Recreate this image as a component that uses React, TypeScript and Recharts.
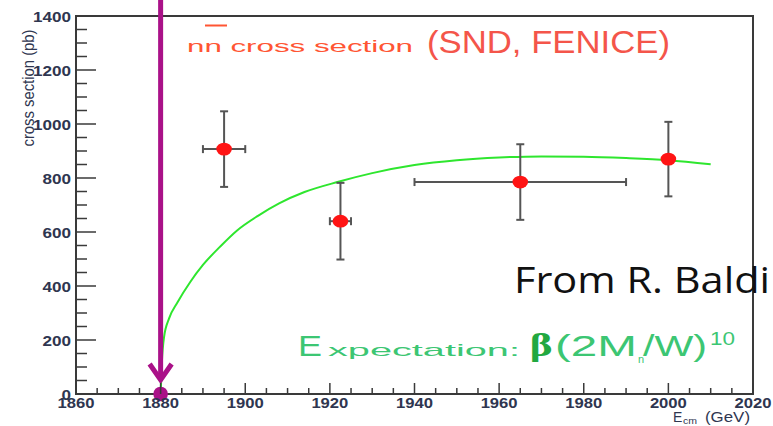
import {
  ComposedChart,
  XAxis,
  YAxis,
  Line,
  Scatter,
  ErrorBar,
  ReferenceArea,
  ReferenceLine,
  ReferenceDot,
} from 'recharts'

// SND / FENICE n-nbar points: energy (GeV) with half-width, cross section (pb) with error
const energy = [1895, 1922.5, 1965, 2000]
const energyErr = [5, 2.5, 25, 0]
const sigma = [907, 640, 785, 870]
const sigmaErr = [140, 142, 140, 138]

// expectation curve, beta (2Mn/W)^10 shape
const curveE = [1880, 1880.3, 1880.8, 1882, 1884, 1887, 1890, 1894, 1898, 1903, 1908, 1914, 1922, 1930, 1940, 1950, 1960, 1970, 1980, 1990, 2000, 2010]
const curveSigma = [0, 120, 210, 280, 340, 415, 478, 545, 605, 660, 706, 748, 786, 818, 848, 866, 876, 880, 879, 874, 866, 851]

const xMajor = [1860, 1880, 1900, 1920, 1940, 1960, 1980, 2000, 2020]
const yMajor = [0, 200, 400, 600, 800, 1000, 1200, 1400]

// threshold marker at 2Mn
const threshold = 1880
const arrowTop = 1465
const arrowTip = 52

const points = energy.map((x, i) => ({ x, y: sigma[i], ex: energyErr[i], ey: sigmaErr[i] }))
const curve = curveE.map((x, i) => ({ x, y: curveSigma[i] }))

const xTicks: number[] = []
for (let v = xMajor[0]; v <= xMajor[xMajor.length - 1]; v += 5) xTicks.push(v)
const yTicks: number[] = []
for (let v = yMajor[0]; v <= yMajor[yMajor.length - 1]; v += 50) yTicks.push(v)

const W = 773
const H = 426
const PLOT = { left: 76, right: 753, top: 16, bottom: 394 }
const AXIS = '#3a3a3a'
const LABEL = '#2f3650'
const PURPLE = '#aa1188'
const GREEN_TXT = '#3cc673'
const HELV = 'Liberation Sans, Arial, sans-serif'

function XTick({ x, payload }: any) {
  const v = payload.value
  const major = xMajor.includes(v)
  return (
    <g>
      <line x1={x} x2={x} y1={PLOT.bottom} y2={PLOT.bottom - (major ? 11 : 6)} stroke={AXIS} strokeWidth={1.5} />
      {major && (
        <text x={x} y={408} textAnchor="middle" fontSize={15} fontWeight="bold" fill={LABEL}
          fontFamily={HELV} textLength={37} lengthAdjust="spacingAndGlyphs">
          {v}
        </text>
      )}
    </g>
  )
}

function YTick({ y, payload }: any) {
  const v = payload.value
  const major = yMajor.includes(v)
  const s = String(v)
  return (
    <g>
      <line x1={PLOT.left} x2={PLOT.left + (major ? 20 : 11)} y1={y} y2={y} stroke={AXIS} strokeWidth={1.5} />
      {major && (
        <text x={71} y={y + 5.5} textAnchor="end" fontSize={15} fontWeight="bold" fill={LABEL}
          fontFamily={HELV} textLength={9.5 * s.length} lengthAdjust="spacingAndGlyphs">
          {s}
        </text>
      )}
    </g>
  )
}

function Dot(p: any) {
  return <ellipse cx={p.cx} cy={p.cy} rx={7.8} ry={6.4} fill="#ff1414" />
}

function Arrow(p: any) {
  const { x1, y1, y2 } = p
  return (
    <g>
      <line x1={x1} x2={x1} y1={y1} y2={y2 - 3} stroke={PURPLE} strokeWidth={5} />
      <polyline points={`${x1 - 11},${y2 - 16} ${x1},${y2} ${x1 + 11},${y2 - 16}`}
        fill="none" stroke={PURPLE} strokeWidth={5} strokeLinejoin="miter" />
    </g>
  )
}

export default function App() {
  return (
    <div style={{ position: 'absolute', left: 0, top: 0, width: W, height: H, background: '#fff' }}>
      <ComposedChart width={W} height={H} margin={{ top: PLOT.top, right: W - PLOT.right, left: 0, bottom: 0 }}>
        <XAxis dataKey="x" type="number" domain={[1860, 2020]} ticks={xTicks} interval={0}
          axisLine={false} tickLine={false} tickSize={0} height={H - PLOT.bottom} tick={<XTick />} allowDataOverflow />
        <YAxis type="number" domain={[0, 1400]} ticks={yTicks} interval={0}
          axisLine={false} tickLine={false} tickSize={0} width={PLOT.left} tick={<YTick />} allowDataOverflow />
        <ReferenceArea x1={1860} x2={2020} y1={0} y2={1400} fill="none" stroke={AXIS} strokeWidth={2} />
        <Line data={curve} dataKey="y" type="monotone" stroke="#2ee62e" strokeWidth={2}
          dot={false} isAnimationActive={false} />
        <Scatter data={points} dataKey="y" shape={<Dot />} isAnimationActive={false}>
          <ErrorBar dataKey="ey" direction="y" width={4} stroke="#555" strokeWidth={2} />
          <ErrorBar dataKey="ex" direction="x" width={4} stroke="#555" strokeWidth={2} />
        </Scatter>
        <ReferenceLine segment={[{ x: threshold, y: arrowTop }, { x: threshold, y: arrowTip }]}
          ifOverflow="visible" shape={<Arrow />} />
        <ReferenceDot x={threshold} y={0} r={7.3} fill={PURPLE} stroke="none" ifOverflow="visible" />
      </ComposedChart>

      <svg width={W} height={H} style={{ position: 'absolute', left: 0, top: 0, pointerEvents: 'none' }}>
        {/* process title */}
        <text x={187} y={52} fontSize={16} fill="#ff5533" fontFamily={HELV}
          textLength={226} lengthAdjust="spacingAndGlyphs">nn cross section</text>
        <line x1={205} x2={227} y1={25.5} y2={25.5} stroke="#ff5533" strokeWidth={2} />
        <text x={427} y={53} fontSize={31} fill="#f4554a" fontFamily={HELV}
          textLength={243} lengthAdjust="spacingAndGlyphs">(SND, FENICE)</text>

        <text x={514} y={293} fontSize={37} fill="#111" fontFamily="Open Sans, sans-serif"
          textLength={256} lengthAdjust="spacingAndGlyphs">From R. Baldi</text>

        {/* expectation formula */}
        <text x={298} y={356} fontSize={29} fill={GREEN_TXT} fontFamily={HELV}
          textLength={24} lengthAdjust="spacingAndGlyphs">E</text>
        <text x={328} y={356} fontSize={17} fill={GREEN_TXT} fontFamily={HELV}
          textLength={192} lengthAdjust="spacingAndGlyphs">xpectation:</text>
        <text x={530} y={356} fontSize={29} fontWeight="bold" fill="#22a840" fontFamily="DejaVu Serif, serif"
          textLength={23} lengthAdjust="spacingAndGlyphs">β</text>
        <text x={555} y={356} fontSize={29} fill={GREEN_TXT} fontFamily={HELV}
          textLength={82} lengthAdjust="spacingAndGlyphs">(2M</text>
        <text x={638} y={363} fontSize={11} fill={GREEN_TXT} fontFamily={HELV}>n</text>
        <text x={643} y={356} fontSize={29} fill={GREEN_TXT} fontFamily={HELV}
          textLength={64} lengthAdjust="spacingAndGlyphs">/W)</text>
        <text x={710} y={345} fontSize={18} fill={GREEN_TXT} fontFamily={HELV}
          textLength={25} lengthAdjust="spacingAndGlyphs">10</text>

        {/* axis titles */}
        <text x={34} y={88} transform="rotate(-90, 34, 88)" textAnchor="middle" fontSize={16} fill={LABEL}
          fontFamily={HELV} textLength={117} lengthAdjust="spacingAndGlyphs">cross section (pb)</text>
        <text x={673} y={422} fontSize={14} fill={LABEL} fontFamily={HELV}>E</text>
        <text x={683} y={424} fontSize={9} fill={LABEL} fontFamily={HELV}
          textLength={14} lengthAdjust="spacingAndGlyphs">cm</text>
        <text x={705} y={422} fontSize={14} fill={LABEL} fontFamily={HELV}
          textLength={45} lengthAdjust="spacingAndGlyphs">(GeV)</text>
      </svg>
    </div>
  )
}
